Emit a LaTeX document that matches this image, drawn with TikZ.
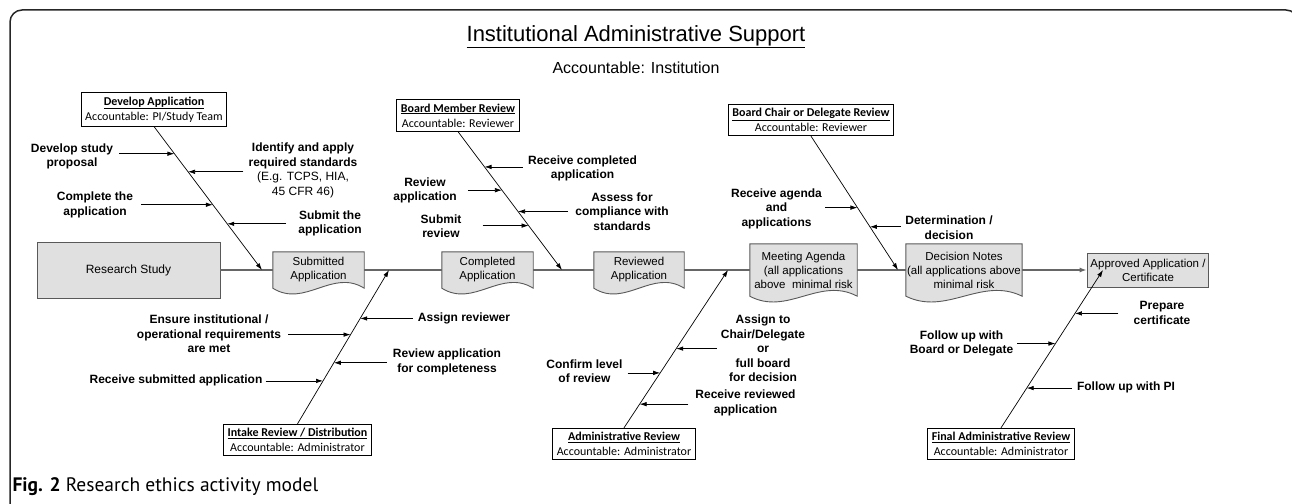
\documentclass[tikz,border=0pt]{standalone}
\usepackage{fontspec}
\setmainfont{Liberation Sans}
\newfontfamily\calfont{Carlito}
\newfontfamily\capfont{PT Sans}
\usetikzlibrary{arrows.meta,calc,backgrounds}

\begin{document}
\begin{tikzpicture}[x=1pt,y=-1pt,
  acc/.style={draw=black,line width=0.8pt,fill=white,align=center,inner xsep=4pt,inner ysep=4pt,font=\calfont\fontsize{12}{15}\selectfont},
  docu/.style={align=center,inner sep=1pt,font=\fontsize{11.5}{14}\selectfont},
  greybox/.style={draw=black!65,fill=black!12,line width=0.9pt,align=center,font=\fontsize{11.5}{14}\selectfont},
  lbl/.style={align=center,inner sep=3pt,font=\bfseries\fontsize{12}{14.5}\selectfont},
  spine/.style={draw=black!60,line width=1.6pt},
  diag/.style={line width=0.7pt,-{Latex[length=7pt,width=4.5pt]}},
  fb/.style={line width=0.7pt,-{Latex[length=7pt,width=4.5pt]}}]
\useasboundingbox (0,0) rectangle (1292,503);
\clip (0,0) rectangle (1292,503);
\draw[line width=1.5pt,black!85,rounded corners=12pt] (10,530) -- (10,10) -- (1298,10) -- (1298,530);

\node (title) at (636,37) {\fontsize{22}{26}\selectfont\underline{Institutional Administrative Support}};
\node (inst) at (636,68) {\fontsize{16}{19}\selectfont Accountable: Institution};
\node[anchor=west] (cap) at (9,487) {\capfont\fontsize{19.5}{22}\selectfont\textbf{Fig. 2} Research ethics activity model};

\node[greybox,minimum width=183pt,minimum height=56pt,font=\fontsize{12}{14}\selectfont] (rs) at (128.5,270) {Research Study};
\node[docu,minimum width=91pt,minimum height=36pt] (sub) at (318.5,270) {Submitted\\Application};
\node[docu,minimum width=91pt,minimum height=36pt] (comp) at (487.5,270) {Completed\\Application};
\node[docu,minimum width=90pt,minimum height=36pt] (rev) at (639,270) {Reviewed\\Application};
\node[docu,minimum width=107pt,minimum height=52pt] (meet) at (803.5,270) {Meeting Agenda\\(all applications\\above\ \ minimal risk};
\node[docu,minimum width=114pt,minimum height=52pt] (dec) at (964,270) {Decision Notes\\(all applications above\\minimal risk};
\node[greybox,minimum width=120pt,minimum height=34pt] (appr) at (1148,270) {Approved Application /\\Certificate};

\begin{scope}[on background layer]
\foreach \n in {sub,comp,rev,meet,dec}
  \filldraw[draw=black!65,fill=black!12,line width=0.9pt] (\n.north west) -- (\n.north east) -- (\n.south east)
    .. controls ($(\n.south east)!0.35!(\n.south west)+(0,-20)$) and ($(\n.south east)!0.65!(\n.south west)+(0,20)$) .. (\n.south west) -- cycle;
\end{scope}

\draw[spine] (rs) -- (sub);
\draw[spine] (sub) -- (comp);
\draw[spine] (comp) -- (rev);
\draw[spine] (rev) -- (meet);
\draw[spine] (meet) -- (dec);
\draw[spine,-{Latex[length=7pt,width=5pt]}] (dec) -- (appr);

\node[acc] (devA) at (154,109.5) {\textbf{\underline{Develop Application}}\\Accountable: PI/Study Team};
\node[acc] (bmr) at (458,115.5) {\textbf{\underline{Board Member Review}}\\Accountable: Reviewer};
\node[acc] (bcr) at (811,120) {\textbf{\underline{Board Chair or Delegate Review}}\\Accountable: Reviewer};
\node[acc] (intake) at (297.5,440) {\textbf{\underline{Intake Review / Distribution}}\\Accountable: Administrator};
\node[acc] (admin) at (624,444) {\textbf{\underline{Administrative Review}}\\Accountable: Administrator};
\node[acc] (final) at (1001,444) {\textbf{\underline{Final Administrative Review}}\\Accountable: Administrator};

\coordinate (sA) at (262,270);
\coordinate (sB) at (562,270);
\coordinate (sC) at (898,270);
\coordinate (sI) at (389,270);
\coordinate (sD) at (728,270);
\coordinate (sF) at (1103,270);
\draw[diag] (devA.south) -- (sA);
\draw[diag] (bmr.south) -- (sB);
\draw[diag] (bcr.south) -- (sC);
\draw[diag] (intake.north) -- (sI);
\draw[diag] (admin.north) -- (sD);
\draw[diag] (final.north) -- (sF);

\coordinate (ta1) at ($(devA.south)!0.189!(sA)$);
\coordinate (ta2) at ($(devA.south)!0.315!(sA)$);
\coordinate (ta3) at ($(devA.south)!0.545!(sA)$);
\coordinate (ta4) at ($(devA.south)!0.678!(sA)$);
\coordinate (tb1) at ($(bmr.south)!0.255!(sB)$);
\coordinate (tb2) at ($(bmr.south)!0.423!(sB)$);
\coordinate (tb3) at ($(bmr.south)!0.577!(sB)$);
\coordinate (tb4) at ($(bmr.south)!0.679!(sB)$);
\coordinate (tc1) at ($(bcr.south)!0.534!(sC)$);
\coordinate (tc2) at ($(bcr.south)!0.677!(sC)$);
\coordinate (ti1) at ($(intake.north)!0.685!(sI)$);
\coordinate (ti2) at ($(intake.north)!0.580!(sI)$);
\coordinate (ti3) at ($(intake.north)!0.397!(sI)$);
\coordinate (ti4) at ($(intake.north)!0.279!(sI)$);
\coordinate (td1) at ($(admin.north)!0.502!(sD)$);
\coordinate (td2) at ($(admin.north)!0.348!(sD)$);
\coordinate (td3) at ($(admin.north)!0.150!(sD)$);
\coordinate (tf1) at ($(final.north)!0.725!(sF)$);
\coordinate (tf2) at ($(final.north)!0.534!(sF)$);
\coordinate (tf3) at ($(final.north)!0.252!(sF)$);

\node[lbl] (la1) at (72,156.5) {Develop study\\proposal};
\node[lbl] (la2) at (303,170.5) {Identify and apply\\required standards\\{\mdseries (E.g. TCPS, HIA,}\\{\mdseries 45 CFR 46)}};
\node[lbl] (la3) at (95,205) {Complete the\\application};
\node[lbl] (la4) at (330,223.5) {Submit the\\application};
\node[lbl] (lb1) at (582.5,168.5) {Receive completed\\application};
\node[lbl] (lb2) at (425,190.5) {Review\\application};
\node[lbl] (lb3) at (622,211.5) {Assess for\\compliance with\\standards};
\node[lbl] (lb4) at (441,226) {Submit\\review};
\node[lbl] (lc1) at (776.5,208.5) {Receive agenda\\and\\applications};
\node[lbl] (lc2) at (949,227.5) {Determination /\\decision};
\node[lbl] (li1) at (464,318) {Assign reviewer};
\node[lbl] (li2) at (209,334) {Ensure institutional /\\operational requirements\\are met};
\node[lbl] (li3) at (447,362) {Review application\\for completeness};
\node[lbl] (li4) at (176,380) {Receive submitted application};
\node[lbl] (ld1) at (763,348.5) {Assign to\\Chair/Delegate\\or\\full board\\for decision};
\node[lbl] (ld2) at (584.5,371) {Confirm level\\of review};
\node[lbl] (ld3) at (745.5,403) {Receive reviewed\\application};
\node[lbl] (lf1) at (1162,313) {Prepare\\certificate};
\node[lbl] (lf2) at (961.5,343.5) {Follow up with\\Board or Delegate};
\node[lbl] (lf3) at (1126,387) {Follow up with PI};

\foreach \n/\s in {a1/3,a3/5,b2/8,b4/18,c1/0,i2/4,i4/0,d2/2,f2/1}
  \draw[fb,shorten <=\s pt] (l\n.east |- t\n) -- (t\n);
\foreach \n/\s in {a2/2,a4/9,b1/2,b3/4,c2/1,i1/2,i3/3,d1/1,d3/4,f1/12,f3/2}
  \draw[fb,shorten <=\s pt] (l\n.west |- t\n) -- (t\n);
\end{tikzpicture}
\end{document}
